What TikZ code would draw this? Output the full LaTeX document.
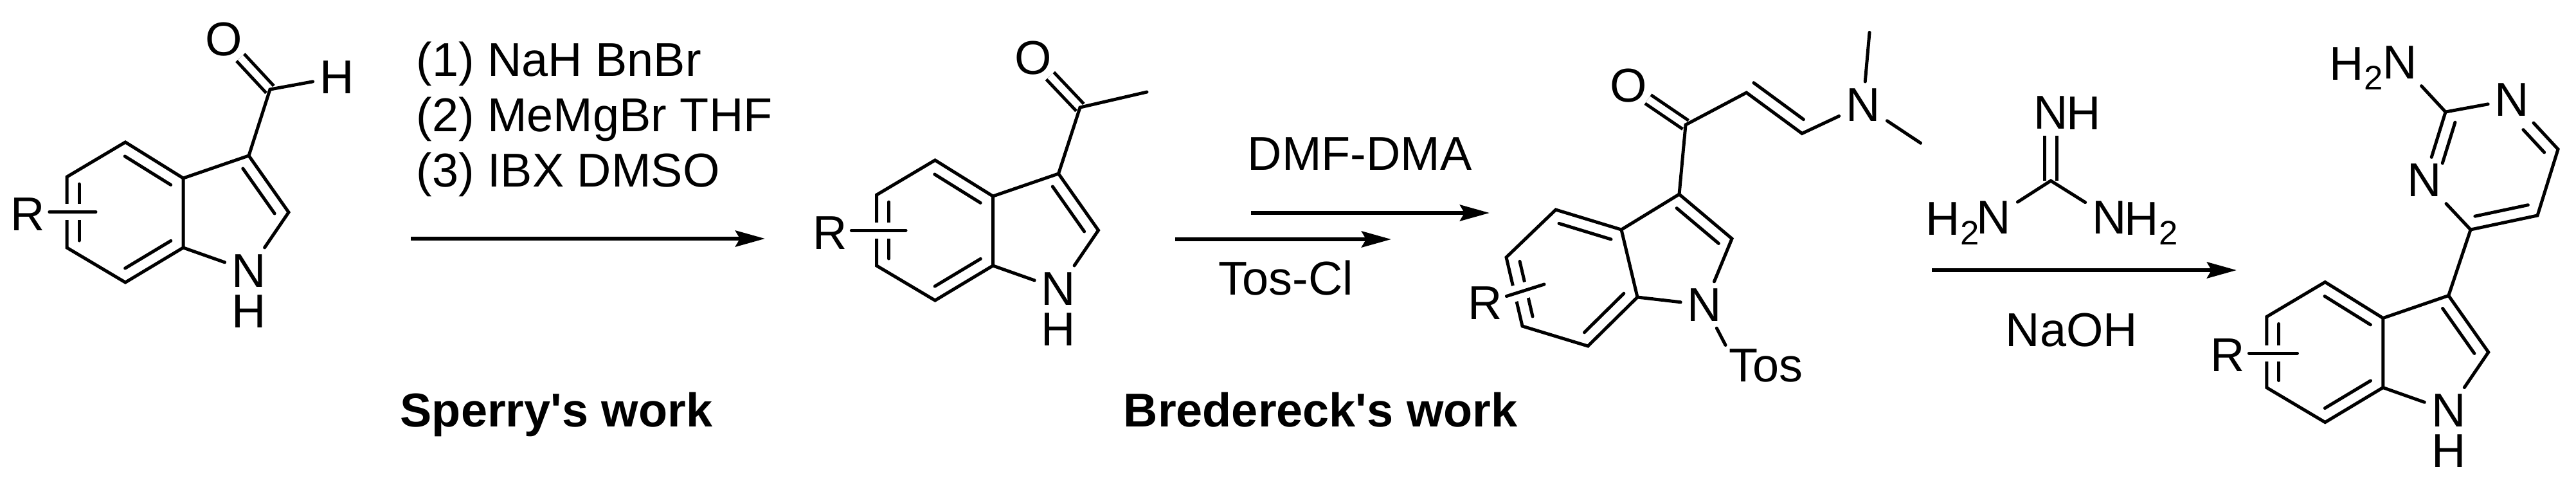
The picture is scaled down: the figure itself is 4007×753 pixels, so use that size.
\documentclass[tikz,border=0pt]{standalone}
\usepackage{fontspec}
\setmainfont{Liberation Sans}
\newfontfamily\workfont{Liberation Sans}
\usetikzlibrary{calc,arrows.meta}
\tikzset{
  bond/.style={line width=0.05cm,line cap=round,line join=miter},
  dblbond/.style={line width=0.05cm,double,double distance=0.11cm},
  rbond/.style={bond,preaction={draw=white,line width=0.25cm,line cap=butt}},
  atom/.style={inner sep=0.1cm,font=\fontsize{21}{21}\selectfont},
  atomh/.style={atom,inner sep=0pt},
  oxy/.style={atom,inner sep=0.01cm},
  rsub/.style={atom,inner sep=0.06cm},
  txt/.style={inner sep=0pt,anchor=base west,font=\fontsize{21}{21}\selectfont},
  txtb/.style={txt,font=\fontsize{21}{21}\selectfont\workfont\bfseries},
  rxn/.style={line width=0.06cm,-{Stealth[length=0.46cm,width=0.25cm,inset=0.07cm]}}
}
\newcommand{\subtwo}{\raisebox{-0.15cm}{\fontsize{15}{15}\selectfont 2}}
% second line of a double bond, on the left going from #2 to #3
\newcommand{\innerbond}[3][]{\draw[bond,shorten <=0.11cm,shorten >=0.11cm,#1] ($(#2)!0.19cm!90:(#3)$) -- ($(#3)!0.19cm!-90:(#2)$);}
% indole with its NH, top of the six-ring at (#2,#3)
\newcommand{\indole}[3]{
  \begin{scope}[shift={(#2,#3)},name prefix=#1]
  \coordinate (top) at (0,0);
  \coordinate (ul) at (-91,54);
  \coordinate (ll) at (-91,164);
  \coordinate (bot) at (0,218);
  \coordinate (c7a) at (90,164);
  \coordinate (c3a) at (90,56);
  \coordinate (c3) at (192,21);
  \coordinate (c2) at (254,109);
  \node[atom] (n) at (192,200) {N};
  \node[atomh] (h) at (192,263) {H};
  \draw[bond] (top) -- (ul) -- (ll) -- (bot) -- (c7a) -- (c3a) -- cycle;
  \draw[bond] (c3a) -- (c3) -- (c2) -- (n) -- (c7a);
  \innerbond{ul}{ll}
  \innerbond{bot}{c7a}
  \innerbond{c3a}{top}
  \innerbond{c2}{c3}
  \end{scope}
}
\begin{document}
\begin{tikzpicture}[x=0.01cm,y=-0.01cm]
\useasboundingbox (0,0) rectangle (4007,753);

% aldehyde
\indole{a-}{195}{221}
\coordinate (a-co) at (420,139);
\node[oxy] (a-o) at (348,61.5) {O};
\node[atom] (a-hc) at (524,120) {H};
\draw[dblbond] (a-co) -- (a-o);
\draw[bond] (a-c3) -- (a-co) -- (a-hc);
\node[rsub] (a-r) at (43.5,333) {R};
\coordinate (a-re) at (149,329.5);
\draw[rbond] (a-r.east |- a-re) -- (a-re);

% first step
\node[txt] (s1a) at (647,118) {(1) NaH BnBr};
\node[txt] (s1b) at (647,204) {(2) MeMgBr THF};
\node[txt] (s1c) at (647,290.5) {(3) IBX DMSO};
\coordinate (ar1s) at (639,371);
\coordinate (ar1e) at (1190,371);
\draw[rxn] (ar1s) -- (ar1e);
\node[txtb] (work1) at (622,663) {Sperry's work};

% ketone
\indole{b-}{1454.5}{249}
\coordinate (b-co) at (1680,167);
\coordinate (b-me) at (1784,143);
\node[oxy] (b-o) at (1607,90) {O};
\draw[dblbond] (b-co) -- (b-o);
\draw[bond] (b-c3) -- (b-co) -- (b-me);
\node[rsub] (b-r) at (1291,362) {R};
\coordinate (b-re) at (1409,358);
\draw[rbond] (b-r.east |- b-re) -- (b-re);

% second step
\coordinate (ar2s) at (1828,372);
\coordinate (ar2e) at (2164,372);
\draw[rxn] (ar2s) -- (ar2e);
\coordinate (ar3s) at (1946,331);
\coordinate (ar3e) at (2317,331);
\draw[rxn] (ar3s) -- (ar3e);
\node[txt] (dmf) at (1940,264) {DMF-DMA};
\node[txt] (tscl) at (1895,458) {Tos-Cl};
\node[txtb] (work2) at (1747,663) {Bredereck's work};

% enaminone
\coordinate (c-c4) at (2420,326);
\coordinate (c-c5) at (2343,400);
\coordinate (c-c6) at (2368,507);
\coordinate (c-c7) at (2470,538);
\coordinate (c-c7a) at (2547,462);
\coordinate (c-c3a) at (2522,357);
\coordinate (c-c3) at (2612,302);
\coordinate (c-c2) at (2694,371);
\coordinate (c-co) at (2622,194);
\coordinate (c-ca) at (2716.6,144);
\coordinate (c-cb) at (2803,207.5);
\coordinate (c-me1) at (2908,50.4);
\coordinate (c-me2) at (2987.5,222.4);
\node[atom] (c-n) at (2651.5,474) {N};
\node[oxy] (c-o) at (2533,133.5) {O};
\node[atom] (c-nme) at (2898,163) {N};
\node[atom,inner sep=0.05cm,anchor=base west] (c-tos) at (2684,593) {Tos};
\draw[bond] (c-c4) -- (c-c5) -- (c-c6) -- (c-c7) -- (c-c7a) -- (c-c3a) -- cycle;
\draw[bond] (c-c3a) -- (c-c3) -- (c-c2) -- (c-n) -- (c-c7a);
\draw[bond] (c-n) -- (c-tos.north west);
\innerbond{c-c5}{c-c6}
\innerbond{c-c7}{c-c7a}
\innerbond{c-c3a}{c-c4}
\innerbond{c-c2}{c-c3}
\draw[dblbond] (c-co) -- (c-o);
\draw[bond] (c-c3) -- (c-co) -- (c-ca) -- (c-cb) -- (c-nme);
\innerbond[shorten <=0cm]{c-ca}{c-cb}
\draw[bond] (c-nme) -- (c-me1);
\draw[bond] (c-nme) -- (c-me2);
\node[rsub] (c-r) at (2310,471) {R};
\coordinate (c-re) at (2402,442);
\draw[rbond] (c-r) -- (c-re);

% guanidine
\coordinate (g-c) at (3190,281);
\node[atom] (g-nh) at (3190,175) {N};
\node[txt] (g-h) at (3214,201.7) {H};
\node[atom] (g-nl) at (3101,338) {N};
\node[txt,anchor=base east] (g-hl) at (3079,365) {H\subtwo};
\node[atom] (g-nr) at (3281,338) {N};
\node[txt] (g-hr) at (3304,365) {H\subtwo};
\draw[dblbond,double distance=0.14cm] (g-c) -- (g-nh);
\draw[bond] (g-nl) -- (g-c) -- (g-nr);

% third step
\coordinate (ar4s) at (3005,420);
\coordinate (ar4e) at (3479,420);
\draw[rxn] (ar4s) -- (ar4e);
\node[txt] (naoh) at (3119,538) {NaOH};

% aminopyrimidine
\indole{d-}{3616.7}{438.5}
\coordinate (d-p4) at (3843,357);
\coordinate (d-p5) at (3947,335);
\coordinate (d-p6) at (3979,232);
\coordinate (d-p2) at (3804,174);
\node[atom] (d-n1) at (3907.5,155) {N};
\node[atom] (d-n3) at (3771,280.5) {N};
\node[atom] (d-nh) at (3733,97.5) {N};
\node[txt,anchor=base east] (d-hh) at (3707,124) {H\subtwo};
\draw[bond] (d-c3) -- (d-p4);
\draw[bond] (d-n3) -- (d-p4) -- (d-p5) -- (d-p6) -- (d-n1) -- (d-p2) -- (d-n3);
\draw[bond] (d-p2) -- (d-nh);
\innerbond[shorten >=0.34cm]{d-p2}{d-n3}
\innerbond{d-p4}{d-p5}
\innerbond[shorten >=0.46cm]{d-p6}{d-n1}
\node[rsub] (d-r) at (3465,552) {R};
\coordinate (d-re) at (3573.4,549);
\draw[rbond] (d-r.east |- d-re) -- (d-re);
\end{tikzpicture}
\end{document}
